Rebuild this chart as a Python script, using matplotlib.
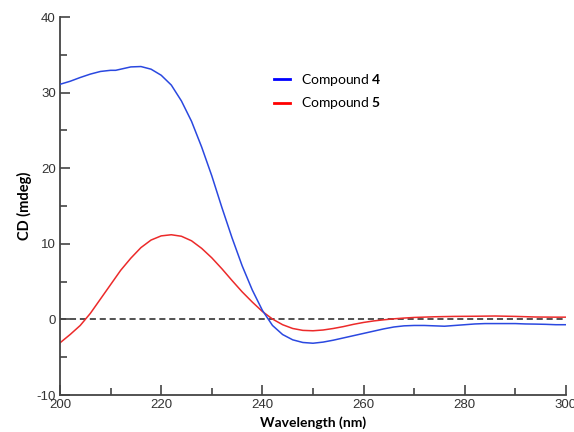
import matplotlib
matplotlib.use("Agg")
import matplotlib.pyplot as plt
from matplotlib.ticker import MultipleLocator

# CD spectra
wl_4 = [200, 202, 204, 206, 208, 210, 211, 212, 214, 216, 218, 220, 222, 224,
        226, 228, 230, 232, 234, 236, 238, 240, 242, 244, 246, 248, 250, 252,
        254, 256, 258, 260, 262, 264, 266, 268, 270, 272, 274, 276, 278, 280,
        282, 284, 286, 288, 290, 292, 294, 296, 298, 300]
cd_4 = [31.1, 31.5, 32.0, 32.45, 32.8, 32.95, 32.95, 33.1, 33.4, 33.45, 33.1,
        32.3, 31.0, 28.9, 26.2, 22.8, 19.0, 14.8, 10.8, 7.1, 3.9, 1.2, -0.8,
        -2.0, -2.7, -3.05, -3.15, -3.0, -2.75, -2.45, -2.15, -1.85, -1.55,
        -1.25, -1.0, -0.85, -0.8, -0.8, -0.85, -0.9, -0.8, -0.7, -0.6, -0.55,
        -0.55, -0.55, -0.55, -0.6, -0.62, -0.65, -0.7, -0.7]

wl_5 = [200, 202, 204, 205, 206, 208, 210, 212, 214, 216, 218, 220, 222, 224,
        226, 228, 230, 232, 234, 236, 238, 240, 242, 244, 246, 248, 250, 252,
        254, 256, 258, 260, 262, 264, 266, 268, 270, 274, 278, 282, 286, 290,
        294, 298, 300]
cd_5 = [-3.1, -2.0, -0.8, 0.0, 0.8, 2.7, 4.6, 6.5, 8.1, 9.5, 10.5, 11.05,
        11.2, 11.0, 10.4, 9.4, 8.15, 6.7, 5.15, 3.65, 2.3, 1.05, 0.05, -0.7,
        -1.2, -1.45, -1.5, -1.4, -1.2, -0.95, -0.65, -0.4, -0.2, -0.05, 0.08,
        0.18, 0.26, 0.35, 0.4, 0.42, 0.45, 0.4, 0.32, 0.3, 0.3]

labels = ["Compound $\\mathbf{4}$", "Compound $\\mathbf{5}$"]

plt.rcParams["mathtext.fontset"] = "custom"
plt.rcParams["mathtext.rm"] = "Lato"
plt.rcParams["mathtext.bf"] = "Lato:bold"
plt.rcParams["axes.unicode_minus"] = False

fig = plt.figure(figsize=(5.74, 4.32), dpi=100)
ax = fig.add_axes([0.1045, 0.0856, 0.8815, 0.875])

ax.axhline(0, color="#222222", lw=1.1, ls=(0, (4, 2.5)), zorder=1)
ax.plot(wl_4, cd_4, color="#2a48e0", lw=1.1, zorder=3)
ax.plot(wl_5, cd_5, color="#ec2a2a", lw=1.1, zorder=2)

ax.set_xlim(200, 300)
ax.set_ylim(-10, 40)
ax.xaxis.set_major_locator(MultipleLocator(20))
ax.xaxis.set_minor_locator(MultipleLocator(10))
ax.yaxis.set_major_locator(MultipleLocator(10))
ax.yaxis.set_minor_locator(MultipleLocator(5))

for s in ("top", "right"):
    ax.spines[s].set_visible(False)
for s in ("left", "bottom"):
    ax.spines[s].set_color("#444444")
    ax.spines[s].set_linewidth(1.3)

ax.tick_params(which="both", direction="in", color="#444444", width=1.2,
               labelsize=9.5, labelcolor="#333333")
ax.tick_params(which="major", length=7, pad=3)
ax.tick_params(which="minor", length=5)
for t in ax.get_xticklabels() + ax.get_yticklabels():
    t.set_fontfamily("Liberation Sans")

ax.set_xlabel("Wavelength (nm)", fontfamily="Lato", fontweight="bold",
              fontsize=10, labelpad=4)
ax.set_ylabel("CD (mdeg)", fontfamily="Lato", fontweight="bold",
              fontsize=10.5, labelpad=3)

h4 = plt.Line2D([], [], color="#0000ff", lw=2)
h5 = plt.Line2D([], [], color="#ff0000", lw=2)
ax.legend([h4, h5], labels, loc="upper left",
          bbox_to_anchor=(0.422, 0.855), frameon=False, borderpad=0,
          borderaxespad=0, handlelength=1.2, handletextpad=0.75,
          labelspacing=0.55, prop={"family": "Lato", "size": 10})

fig.savefig("out.png", dpi=100)
